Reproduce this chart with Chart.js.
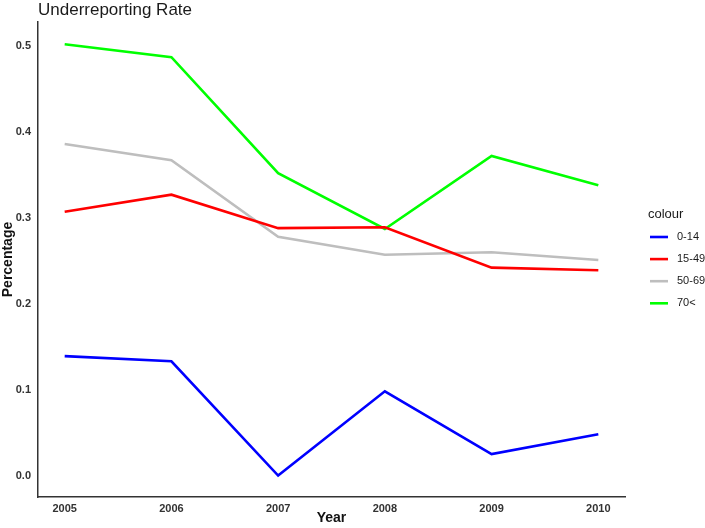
<!DOCTYPE html>
<html>
<head>
<meta charset="utf-8">
<script src="https://cdn.jsdelivr.net/npm/chart.js@4"></script>
<style>
html,body{margin:0;padding:0;background:#fff;}
#wrap{width:705px;height:528px;}
</style>
</head>
<body>
<div id="wrap"><canvas id="c" width="705" height="528"></canvas></div>
<script>
const years = [2005, 2006, 2007, 2008, 2009, 2010];
const seriesNames = ["0-14", "15-49", "50-69", "70<"];
const s0_14  = [0.139, 0.133, 0.000, 0.098, 0.025, 0.048];
const s15_49 = [0.307, 0.327, 0.288, 0.289, 0.242, 0.239];
const s50_69 = [0.386, 0.367, 0.278, 0.257, 0.260, 0.251];
const s70    = [0.502, 0.487, 0.352, 0.287, 0.372, 0.338];
const yTicks = [0.0, 0.1, 0.2, 0.3, 0.4, 0.5];
const colours = ["#0000FF", "#FF0000", "#BEBEBE", "#00FF00"];
const allSeries = [s0_14, s15_49, s50_69, s70];

const datasets = allSeries.map((s, i) => ({
  label: seriesNames[i],
  data: years.map((y, j) => ({x: y, y: s[j]})),
  borderColor: colours[i],
  backgroundColor: colours[i],
  borderWidth: 2.6,
  pointRadius: 0,
  tension: 0,
  fill: false
}));

const FONT = "'Liberation Sans', Arial, sans-serif";

const overlay = {
  id: 'overlay',
  afterDraw(chart) {
    const ctx = chart.ctx;
    ctx.save();
    // title
    ctx.fillStyle = '#1a1a1a';
    ctx.font = "17px " + FONT;
    ctx.textAlign = 'left';
    ctx.textBaseline = 'middle';
    ctx.fillText('Underreporting Rate', 38, 10);
    // legend
    ctx.font = "13px " + FONT;
    ctx.fillStyle = '#1a1a1a';
    ctx.fillText('colour', 648, 214);
    ctx.font = "11px " + FONT;
    chart.data.datasets.forEach((ds, i) => {
      const y = 237 + i * 22.1;
      ctx.strokeStyle = ds.borderColor;
      ctx.lineWidth = 2.6;
      ctx.beginPath();
      ctx.moveTo(650, y);
      ctx.lineTo(668, y);
      ctx.stroke();
      ctx.fillStyle = '#1a1a1a';
      ctx.fillText(ds.label, 677, y);
    });
    ctx.restore();
  }
};

new Chart(document.getElementById('c'), {
  type: 'line',
  data: { datasets },
  options: {
    responsive: false,
    animation: false,
    layout: { padding: { top: 22, right: 80, left: 0, bottom: 0 } },
    plugins: { legend: { display: false }, tooltip: { enabled: false }, title: { display: false } },
    scales: {
      x: {
        type: 'linear',
        min: 2004.75,
        max: 2010.25,
        afterBuildTicks: (axis) => { axis.ticks = years.map(v => ({value: v})); },
        afterFit: (axis) => { axis.height = 31; },
        grid: { display: false, drawTicks: false },
        border: { display: true, color: '#333', width: 1.5 },
        ticks: {
          padding: 5,
          color: '#333',
          font: { family: FONT, size: 11, weight: 'bold' },
          callback: (v) => String(v),
          maxRotation: 0,
          autoSkip: false
        },
        title: {
          display: true,
          text: 'Year',
          color: '#111',
          padding: { top: 0, bottom: 1 },
          font: { family: FONT, size: 14, weight: 'bold' }
        }
      },
      y: {
        type: 'linear',
        min: -0.025,
        max: 0.528,
        afterBuildTicks: (axis) => { axis.ticks = yTicks.map(v => ({value: v})); },
        afterFit: (axis) => { axis.width = 38; },
        grid: { display: false, drawTicks: false },
        border: { display: true, color: '#333', width: 1.5 },
        ticks: {
          padding: 7,
          color: '#333',
          font: { family: FONT, size: 11, weight: 'bold' },
          callback: (v) => Number(v).toFixed(1)
        },
        title: {
          display: true,
          text: 'Percentage',
          color: '#111',
          padding: { top: 0, bottom: 0 },
          font: { family: FONT, size: 14, weight: 'bold' }
        }
      }
    }
  },
  plugins: [overlay]
});
</script>
</body>
</html>
